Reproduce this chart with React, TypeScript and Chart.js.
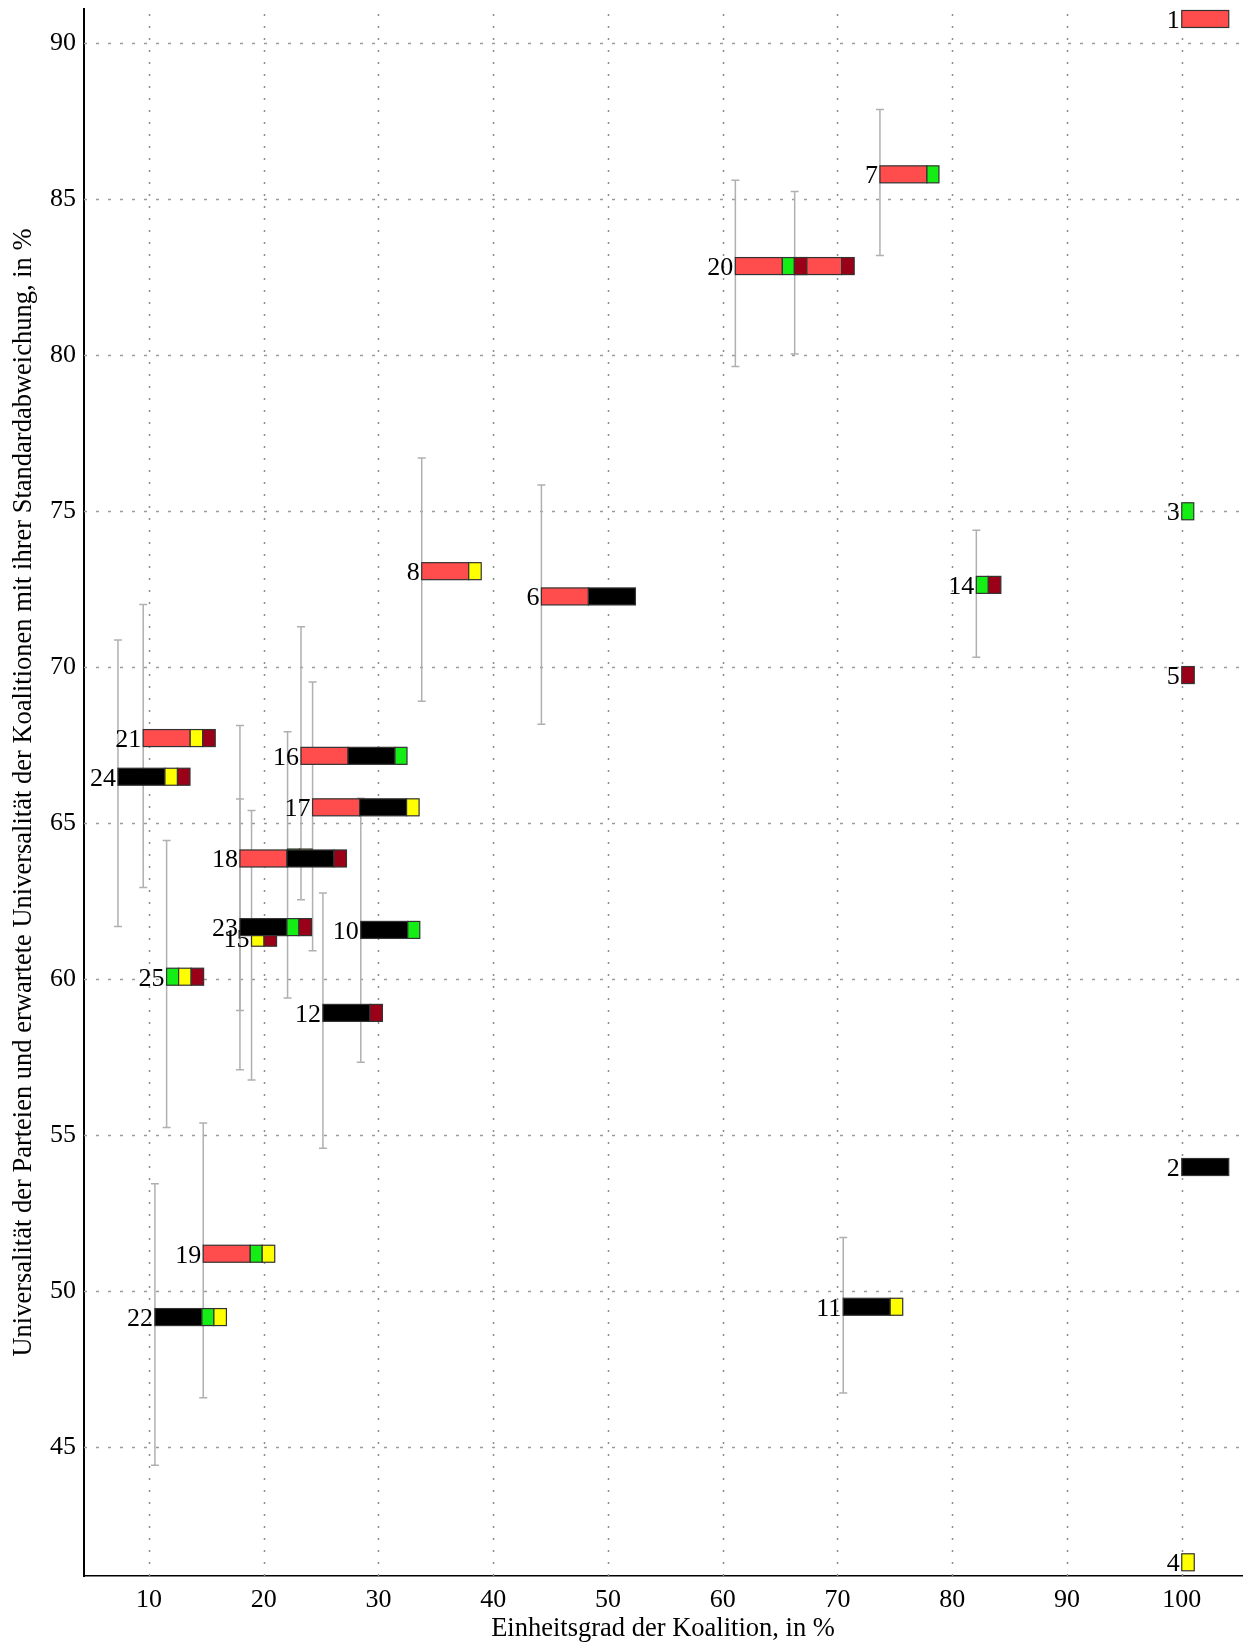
import React, { useEffect, useRef } from "react";
import { Chart, registerables } from "chart.js";

Chart.register(...registerables);

// Coalition numbers (labels drawn next to each bar)
const coalitions = [
  "1", "2", "3", "4", "5", "6", "7", "8", "9", "10", "11", "12", "13",
  "14", "15", "16", "17", "18", "19", "20", "21", "22", "23", "24", "25",
];

// Einheitsgrad der Koalition, in %
const unity = [
  100, 100, 100, 100, 100, 44.2, 73.7, 33.77, 66.27, 28.46, 70.5, 25.16, 22.08,
  82.1, 18.94, 23.25, 24.26, 17.93, 14.73, 61.1, 9.5, 10.52, 17.93, 7.3, 11.54,
];

// Universalität (Partei bzw. erwartete Universalität der Koalition), in %
const universality = [
  90.78, 53.98, 75.0, 41.31, 69.75, 72.27, 85.8, 73.08, 82.86, 61.58, 49.5,
  58.92, 63.9, 72.64, 61.33, 67.16, 65.51, 63.87, 51.2, 82.86, 67.73, 49.17,
  61.67, 66.49, 60.08,
];

// Standard deviation range (lower / upper end)
const sdLow: (number | null)[] = [
  null, null, null, null, null, 68.17, 83.2, 68.91, 80.04, 57.34, 46.74, 54.58,
  59.4, 70.32, 56.77, 62.55, 60.91, 59.0, 46.58, 79.64, 62.94, 44.42, 57.1,
  61.69, 55.25,
];
const sdHigh: (number | null)[] = [
  null, null, null, null, null, 75.84, 87.88, 76.71, 85.25, 65.8, 51.72, 62.76,
  67.93, 74.39, 65.41, 71.3, 69.53, 68.13, 55.39, 85.61, 72.01, 53.44, 65.78,
  70.87, 64.45,
];

// Parties in each coalition: R = rot, B = schwarz, G = grün, Y = gelb, D = dunkelrot
const members = [
  "R", "B", "G", "Y", "D", "RB", "RG", "RY", "RD", "BG", "BY", "BD", "GY",
  "GD", "YD", "RBG", "RBY", "RBD", "RGY", "RGD", "RYD", "BGY", "BGD", "BYD",
  "GYD",
];

const xTicks = [10, 20, 30, 40, 50, 60, 70, 80, 90, 100];
const yTicks = [45, 50, 55, 60, 65, 70, 75, 80, 85, 90];

const partyStyle: Record<string, { color: string; width: number }> = {
  R: { color: "#FF4D4D", width: 47 },
  B: { color: "#000000", width: 47 },
  G: { color: "#14EE14", width: 12 },
  Y: { color: "#FFFF00", width: 12.5 },
  D: { color: "#9A0018", width: 12.5 },
};

const FONT = '"Liberation Serif", "Times New Roman", serif';

const gridPlugin = {
  id: "dottedGrid",
  beforeDatasetsDraw(chart: any) {
    const { ctx, chartArea, scales } = chart;
    const x = scales.x;
    const y = scales.y;
    ctx.save();
    ctx.lineWidth = 1.5;
    ctx.strokeStyle = "#8c8c8c";
    ctx.setLineDash([2, 10]);
    for (const t of xTicks) {
      const px = Math.round(x.getPixelForValue(t)) + 0.5;
      ctx.beginPath();
      ctx.moveTo(px, chartArea.bottom);
      ctx.lineTo(px, chartArea.top);
      ctx.stroke();
    }
    ctx.setLineDash([3, 9]);
    ctx.strokeStyle = "#9a9a9a";
    for (const t of yTicks) {
      const py = Math.round(y.getPixelForValue(t)) + 0.5;
      ctx.beginPath();
      ctx.moveTo(chartArea.left, py);
      ctx.lineTo(chartArea.right, py);
      ctx.stroke();
    }
    ctx.restore();
  },
};

const coalitionPlugin = {
  id: "coalitionBars",
  afterDatasetsDraw(chart: any) {
    const { ctx, scales } = chart;
    const x = scales.x;
    const y = scales.y;
    const barH = 17;
    ctx.save();
    // error bars first (behind)
    ctx.strokeStyle = "#b0b0b0";
    ctx.lineWidth = 1.5;
    for (let i = 0; i < coalitions.length; i++) {
      const lo = sdLow[i];
      const hi = sdHigh[i];
      if (lo == null || hi == null) continue;
      const px = x.getPixelForValue(unity[i]);
      const y1 = y.getPixelForValue(lo);
      const y2 = y.getPixelForValue(hi);
      ctx.beginPath();
      ctx.moveTo(px, y1);
      ctx.lineTo(px, y2);
      ctx.moveTo(px - 4, y1);
      ctx.lineTo(px + 4, y1);
      ctx.moveTo(px - 4, y2);
      ctx.lineTo(px + 4, y2);
      ctx.stroke();
    }
    // labels and bars
    for (let i = 0; i < coalitions.length; i++) {
      const px = x.getPixelForValue(unity[i]);
      const py = y.getPixelForValue(universality[i]);
      ctx.fillStyle = "#000";
      ctx.font = `26px ${FONT}`;
      ctx.textAlign = "right";
      ctx.textBaseline = "alphabetic";
      ctx.fillText(coalitions[i], px - 2, py + 9);
      let cx = px;
      for (const p of members[i].split("")) {
        const st = partyStyle[p];
        ctx.fillStyle = st.color;
        ctx.fillRect(cx, py - barH / 2, st.width, barH);
        ctx.strokeStyle = "#333";
        ctx.lineWidth = 1.2;
        ctx.strokeRect(cx, py - barH / 2, st.width, barH);
        cx += st.width;
      }
    }
    ctx.restore();
  },
};

export default function App() {
  const ref = useRef<HTMLCanvasElement | null>(null);
  useEffect(() => {
    if (!ref.current) return;
    const chart = new Chart(ref.current, {
      type: "scatter",
      data: {
        labels: coalitions,
        datasets: [
          {
            label: "Koalitionen",
            data: unity.map((u, i) => ({ x: u, y: universality[i] })),
            pointRadius: 0,
            pointHoverRadius: 0,
          },
        ],
      },
      options: {
        animation: false,
        responsive: false,
        maintainAspectRatio: false,
        events: [],
        layout: { padding: { top: 9, right: 3, left: 0, bottom: 0 } },
        plugins: {
          legend: { display: false },
          tooltip: { enabled: false },
        },
        scales: {
          x: {
            type: "linear",
            min: 4.34,
            max: 105.25,
            afterBuildTicks: (s: any) => {
              s.ticks = xTicks.map((v) => ({ value: v }));
            },
            afterFit: (s: any) => {
              s.height = 69;
              s.paddingLeft = 0;
              s.paddingRight = 0;
            },
            grid: { display: false, drawTicks: false },
            border: { display: true, color: "#000", width: 1.5 },
            ticks: {
              color: "#000",
              font: { family: FONT, size: 26 },
              padding: 9,
              maxRotation: 0,
            },
            title: {
              display: true,
              text: "Einheitsgrad der Koalition, in %",
              color: "#000",
              font: { family: FONT, size: 26.5 },
              padding: { top: 0, bottom: 0 },
            },
          },
          y: {
            type: "linear",
            min: 40.87,
            max: 91.1,
            afterBuildTicks: (s: any) => {
              s.ticks = yTicks.map((v) => ({ value: v }));
            },
            afterFit: (s: any) => {
              s.width = 84;
              s.paddingTop = 0;
              s.paddingBottom = 0;
            },
            grid: { display: false, drawTicks: false },
            border: { display: true, color: "#000", width: 2 },
            ticks: {
              color: "#000",
              font: { family: FONT, size: 26 },
              padding: 8,
            },
            title: {
              display: true,
              text:
                "Universalität der Parteien und erwartete Universalität der Koalitionen mit ihrer Standardabweichung, in %",
              color: "#000",
              font: { family: FONT, size: 26.5 },
              padding: { top: 8, bottom: 0 },
            },
          },
        },
      },
      plugins: [gridPlugin, coalitionPlugin],
    });
    return () => chart.destroy();
  }, []);
  return (
    <div style={{ position: "absolute", left: 0, top: 0, width: 1245, height: 1645, background: "#fff" }}>
      <canvas ref={ref} width={1245} height={1645} style={{ width: 1245, height: 1645 }} />
    </div>
  );
}
